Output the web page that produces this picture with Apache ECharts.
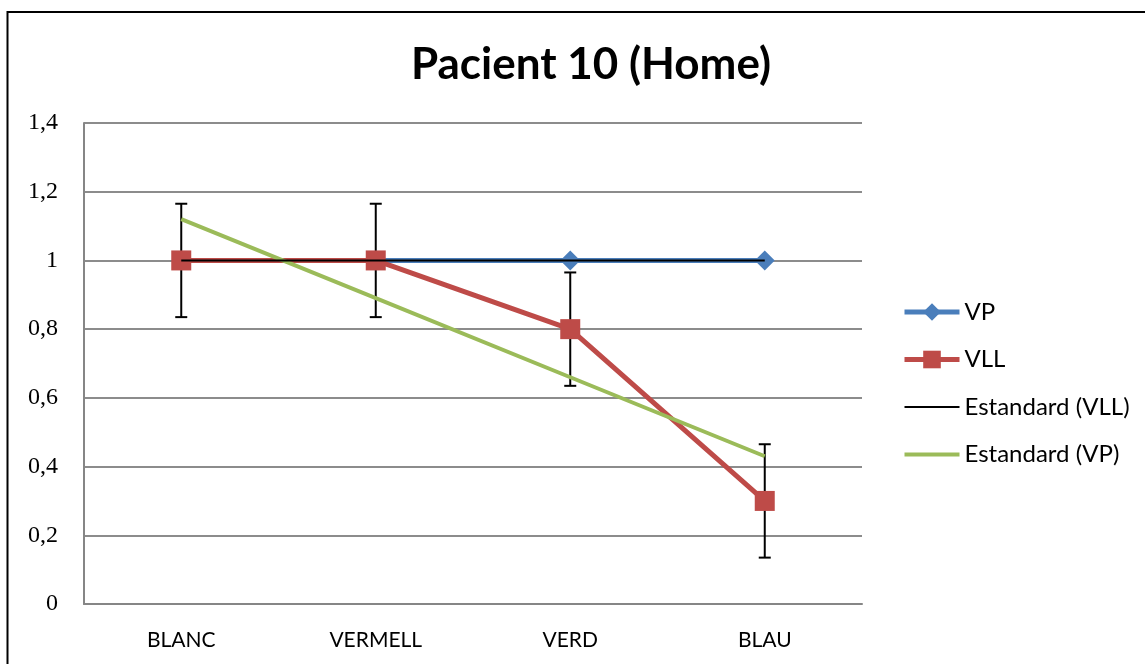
<!DOCTYPE html>
<html>
<head>
<meta charset="utf-8">
<script src="https://cdn.jsdelivr.net/npm/echarts@6/dist/echarts.min.js"></script>
<style>
html,body{margin:0;padding:0;background:#fff;}
#chart{width:1145px;height:664px;}
</style>
</head>
<body>
<div id="chart"></div>
<script>
const categories = ['BLANC', 'VERMELL', 'VERD', 'BLAU'];
const vp = [1, 1, 1, 1];
const vll = [1, 1, 0.8, 0.3];
const estandardVll = [1, 1, 1, 1];
const estandardVp = [1.12, 0.89, 0.66, 0.43];
const errVll = [0.165, 0.165, 0.165, 0.165];
const yTicks = { min: 0, max: 1.4, interval: 0.2 };

const sansFont = 'Lato';
const chart = echarts.init(document.getElementById('chart'), null, { renderer: 'canvas' });

const errData = vll.map((v, i) => [i, v - errVll[i], v + errVll[i]]);

const option = {
  animation: false,
  backgroundColor: '#ffffff',
  title: {
    text: 'Pacient 10 (Home)',
    left: 586,
    textAlign: 'center',
    top: 38,
    textStyle: { fontFamily: sansFont, fontWeight: 'bold', fontSize: 44, color: '#000' }
  },
  graphic: [{
    type: 'rect',
    shape: { x: 7.5, y: 12, width: 1200, height: 700 },
    style: { fill: 'none', stroke: '#000', lineWidth: 2 },
    silent: true
  }],
  legend: {
    orient: 'vertical',
    left: 902,
    top: 300,
    padding: 0,
    itemWidth: 55,
    itemHeight: 22,
    itemGap: 23.5,
    textStyle: { fontFamily: sansFont, fontSize: 24, lineHeight: 24, color: '#000' },
    data: [
      { name: 'VP', lineStyle: { width: 5 } },
      { name: 'VLL', lineStyle: { width: 5 } },
      { name: 'Estandard (VLL)', icon: 'path://M0,0H55V2H0Z', itemStyle: { color: '#000' } },
      { name: 'Estandard (VP)', icon: 'path://M0,0H55V4H0Z', itemStyle: { color: '#9bbb59' } }
    ]
  },
  grid: { left: 84, right: 283, top: 123, bottom: 60, containLabel: false },
  xAxis: {
    type: 'category',
    data: categories,
    boundaryGap: true,
    axisLine: { show: true, lineStyle: { color: '#868686', width: 2 } },
    axisTick: { show: false },
    axisLabel: { margin: 26, fontFamily: sansFont, fontSize: 21, color: '#000' }
  },
  yAxis: {
    type: 'value',
    min: yTicks.min,
    max: yTicks.max,
    interval: yTicks.interval,
    axisLine: { show: true, lineStyle: { color: '#868686', width: 2 } },
    axisTick: { show: false },
    splitLine: { show: true, lineStyle: { color: '#8c8c8c', width: 2 } },
    axisLabel: {
      margin: 26,
      fontFamily: 'Liberation Serif',
      fontSize: 24,
      color: '#000',
      formatter: v => String(+v.toFixed(1)).replace('.', ',')
    }
  },
  series: [
    {
      name: 'VP',
      type: 'line',
      data: vp,
      symbol: 'diamond',
      symbolSize: 20,
      lineStyle: { color: '#4a7ebb', width: 5 },
      itemStyle: { color: '#4a7ebb' },
      z: 2
    },
    {
      name: 'errorbars',
      type: 'custom',
      data: errData,
      z: 3,
      silent: true,
      renderItem: function (params, api) {
        const x = api.value(0);
        const lo = api.coord([x, api.value(1)]);
        const hi = api.coord([x, api.value(2)]);
        const cap = 6;
        const style = { stroke: '#000', lineWidth: 2 };
        return {
          type: 'group',
          children: [
            { type: 'line', shape: { x1: hi[0], y1: hi[1], x2: lo[0], y2: lo[1] }, style: style },
            { type: 'line', shape: { x1: hi[0] - cap, y1: hi[1], x2: hi[0] + cap, y2: hi[1] }, style: style },
            { type: 'line', shape: { x1: lo[0] - cap, y1: lo[1], x2: lo[0] + cap, y2: lo[1] }, style: style }
          ]
        };
      }
    },
    {
      name: 'VLL',
      type: 'line',
      data: vll,
      symbol: 'rect',
      symbolSize: 20,
      lineStyle: { color: '#be4b48', width: 5 },
      itemStyle: { color: '#be4b48' },
      z: 4
    },
    {
      name: 'Estandard (VP)',
      type: 'line',
      data: estandardVp,
      symbol: 'none',
      lineStyle: { color: '#9bbb59', width: 4 },
      itemStyle: { color: '#9bbb59' },
      z: 5
    },
    {
      name: 'Estandard (VLL)',
      type: 'line',
      data: estandardVll,
      symbol: 'none',
      lineStyle: { color: '#000000', width: 2 },
      itemStyle: { color: '#000000' },
      z: 6
    }
  ]
};
chart.setOption(option);
</script>
</body>
</html>
